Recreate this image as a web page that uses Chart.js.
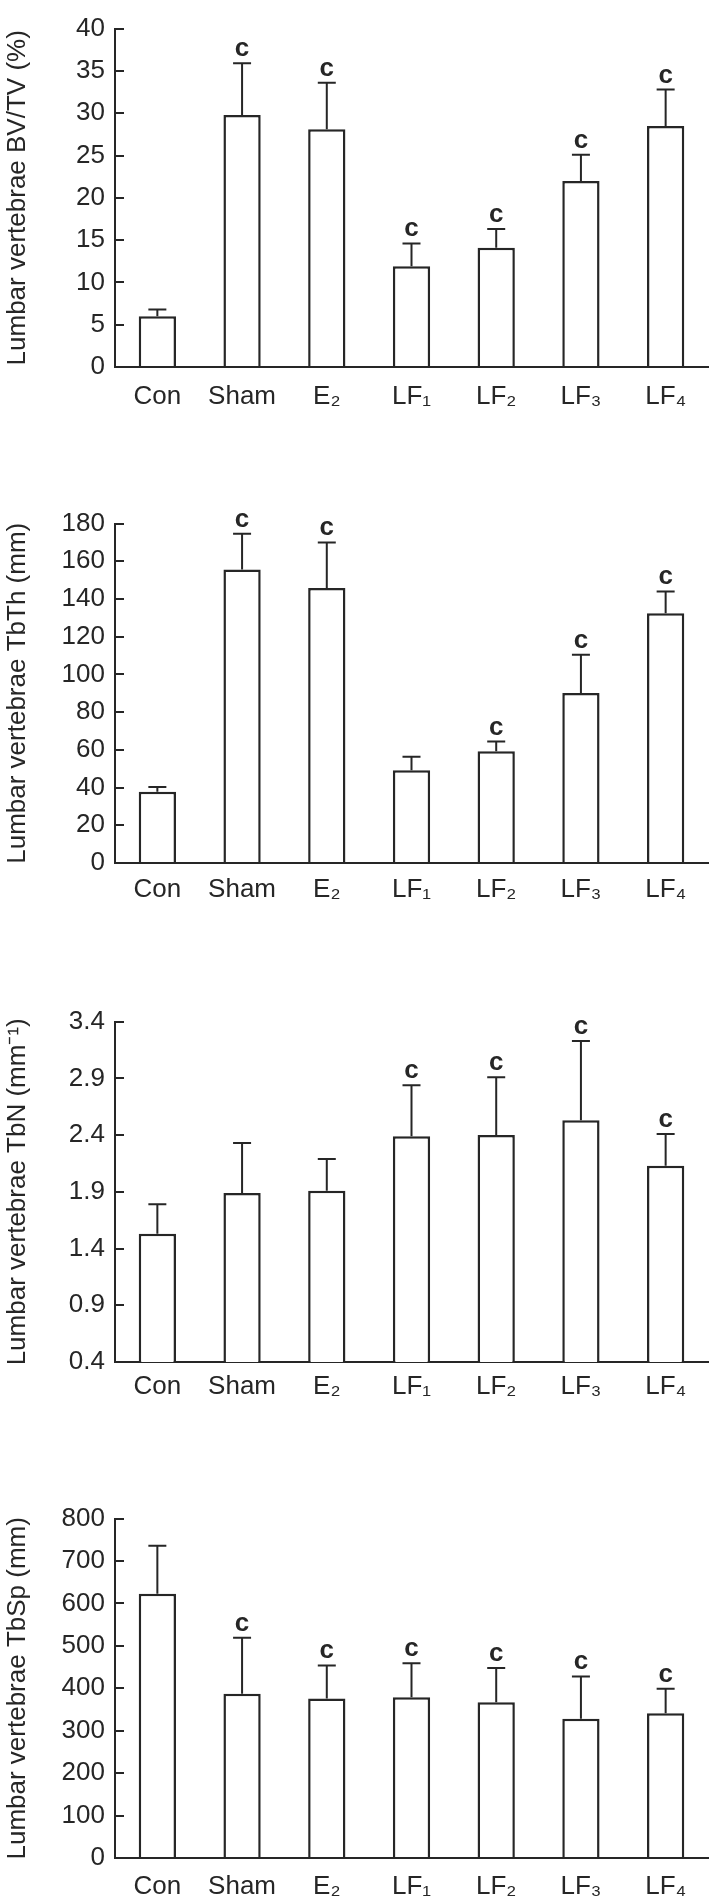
<!DOCTYPE html>
<html>
<head>
<meta charset="utf-8">
<script src="https://cdn.jsdelivr.net/npm/chart.js@4.4.1/dist/chart.umd.min.js"></script>
<style>
  html, body { margin: 0; padding: 0; background: #fff; overflow: hidden; }
  body { position: relative; width: 714px; height: 1904px; }
  canvas { position: absolute; left: 0; }
</style>
</head>
<body>
<canvas id="bvtv"></canvas>
<canvas id="tbth"></canvas>
<canvas id="tbn"></canvas>
<canvas id="tbsp"></canvas>
<script>
// groups on the x axis (same for all four panels)
const categories = ["Con", "Sham", "E₂", "LF₁", "LF₂", "LF₃", "LF₄"];

// BV/TV (%)
const bvtvMean = [6.0, 29.8, 28.1, 11.9, 14.1, 22.0, 28.5];
const bvtvSd = [0.8, 6.1, 5.5, 2.7, 2.2, 3.1, 4.3];
const bvtvMarks = ["", "c", "c", "c", "c", "c", "c"];
const bvtvTicks = [0, 5, 10, 15, 20, 25, 30, 35, 40];

// TbTh (mm)
const tbthMean = [37.8, 155.6, 145.8, 49.2, 59.3, 90.2, 132.5];
const tbthSd = [2.5, 19.0, 24.2, 7.1, 5.1, 20.3, 11.5];
const tbthMarks = ["", "c", "c", "", "c", "c", "c"];
const tbthTicks = [0, 20, 40, 60, 80, 100, 120, 140, 160, 180];

// TbN (mm-1)
const tbnMean = [1.53, 1.89, 1.91, 2.39, 2.40, 2.53, 2.13];
const tbnSd = [0.26, 0.44, 0.28, 0.45, 0.51, 0.70, 0.28];
const tbnMarks = ["", "", "", "c", "c", "c", "c"];
const tbnTicks = [0.4, 0.9, 1.4, 1.9, 2.4, 2.9, 3.4];

// TbSp (mm)
const tbspMean = [623, 387, 376, 379, 367, 328, 341];
const tbspSd = [113, 132, 78, 80, 81, 100, 58];
const tbspMarks = ["", "c", "c", "c", "c", "c", "c"];
const tbspTicks = [0, 100, 200, 300, 400, 500, 600, 700, 800];

const INK = "#262626";
const FONT = "'Liberation Sans', Arial, sans-serif";
const PAD_TOP = 20;
const X_AXIS_H = 50;
const Y_AXIS_W = 115;

Chart.defaults.font.family = FONT;
Chart.defaults.color = INK;

// top = pixel row of the highest y tick, plotH = height of the plot area
const panels = [
  { id: "bvtv", top: 14, plotH: 353, labelPad: 14, title: "Lumbar vertebrae BV/TV (%)",
    mean: bvtvMean, sd: bvtvSd, marks: bvtvMarks, ticks: bvtvTicks },
  { id: "tbth", top: 509, plotH: 354, labelPad: 11, title: "Lumbar vertebrae TbTh (mm)",
    mean: tbthMean, sd: tbthSd, marks: tbthMarks, ticks: tbthTicks },
  { id: "tbn", top: 1007, plotH: 355, labelPad: 9, title: "Lumbar vertebrae TbN (mm⁻¹)",
    mean: tbnMean, sd: tbnSd, marks: tbnMarks, ticks: tbnTicks },
  { id: "tbsp", top: 1504, plotH: 354, labelPad: 13, title: "Lumbar vertebrae TbSp (mm)",
    mean: tbspMean, sd: tbspSd, marks: tbspMarks, ticks: tbspTicks },
];

// upper error bar with cap, plus the significance letter above it
const makeErrorBars = (p) => ({
  id: "errorBars",
  afterDatasetsDraw(chart) {
    const ctx = chart.ctx;
    const y = chart.scales.y;
    const meta = chart.getDatasetMeta(0);
    ctx.save();
    ctx.strokeStyle = INK;
    ctx.lineWidth = 2;
    ctx.fillStyle = INK;
    ctx.font = "bold 26px " + FONT;
    ctx.textAlign = "center";
    ctx.textBaseline = "alphabetic";
    meta.data.forEach((bar, i) => {
      const yMean = y.getPixelForValue(p.mean[i]);
      const yTop = y.getPixelForValue(p.mean[i] + p.sd[i]);
      ctx.beginPath();
      ctx.moveTo(bar.x, yMean);
      ctx.lineTo(bar.x, yTop);
      ctx.moveTo(bar.x - 9, yTop);
      ctx.lineTo(bar.x + 9, yTop);
      ctx.stroke();
      if (p.marks[i]) ctx.fillText(p.marks[i], bar.x, yTop - 7);
    });
    ctx.restore();
  },
});

panels.forEach((p) => {
  const canvas = document.getElementById(p.id);
  canvas.width = 714;
  canvas.height = PAD_TOP + p.plotH + X_AXIS_H;
  canvas.style.top = (p.top - PAD_TOP) + "px";

  new Chart(canvas, {
    type: "bar",
    data: {
      labels: categories,
      datasets: [{
        data: p.mean,
        backgroundColor: "#fff",
        borderColor: INK,
        borderWidth: 2.5,
        barPercentage: 0.44,
        categoryPercentage: 1,
      }],
    },
    options: {
      responsive: false,
      animation: false,
      layout: { padding: { top: PAD_TOP, right: 6, left: 0, bottom: 0 } },
      plugins: { legend: { display: false }, tooltip: { enabled: false } },
      scales: {
        x: {
          grid: { display: false, drawTicks: false },
          border: { display: true, color: INK, width: 2 },
          ticks: { font: { size: 26 }, color: INK, padding: p.labelPad, maxRotation: 0, autoSkip: false },
          afterFit: (s) => { s.height = X_AXIS_H; },
        },
        y: {
          min: p.ticks[0],
          max: p.ticks[p.ticks.length - 1],
          afterBuildTicks: (s) => { s.ticks = p.ticks.map((v) => ({ value: v })); },
          grid: { drawOnChartArea: false, drawTicks: true, tickLength: -9, color: INK, lineWidth: 2 },
          border: { display: true, color: INK, width: 2 },
          ticks: { font: { size: 26 }, color: INK, padding: 19, callback: (v) => String(v) },
          title: { display: true, text: p.title, font: { size: 26 }, color: INK, padding: { top: 2, bottom: 0 } },
          afterFit: (s) => { s.width = Y_AXIS_W; },
        },
      },
    },
    plugins: [makeErrorBars(p)],
  });
});
</script>
</body>
</html>
